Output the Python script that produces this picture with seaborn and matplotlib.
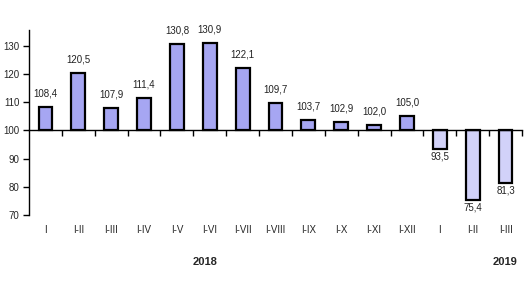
import matplotlib
matplotlib.use("Agg")
import matplotlib.pyplot as plt
import seaborn as sns
import pandas as pd
import numpy as np

categories = ["I", "I-II", "I-III", "I-IV", "I-V", "I-VI", "I-VII", "I-VIII",
              "I-IX", "I-X", "I-XI", "I-XII", "I", "I-II", "I-III"]
years = ["2018"] * 12 + ["2019"] * 3
values = [108.4, 120.5, 107.9, 111.4, 130.8, 130.9, 122.1, 109.7,
          103.7, 102.9, 102.0, 105.0, 93.5, 75.4, 81.3]
value_labels = ["108,4", "120,5", "107,9", "111,4", "130,8", "130,9", "122,1", "109,7",
                "103,7", "102,9", "102,0", "105,0", "93,5", "75,4", "81,3"]
base = 100
yticks = [70, 80, 90, 100, 110, 120, 130]

sns.set_theme(style="white")
plt.rcParams['font.family'] = ['Liberation Sans', 'DejaVu Sans']

df = pd.DataFrame({"pos": list(range(len(values))),
                   "dev": [v - base for v in values],
                   "year": years})

fig = plt.figure(figsize=(5.25, 2.98), dpi=100)
ax = fig.add_axes([29/525, 1 - 215/298, (522 - 29)/525, (215 - 30)/298])

sns.barplot(data=df, x="pos", y="dev", hue="year",
            palette={"2018": "#9999ff", "2019": "#ccccff"},
            dodge=False, width=0.42, edgecolor="black", linewidth=1.6,
            legend=False, ax=ax, bottom=base)

ax.set_ylim(70, 135.6)
ax.set_xlim(-0.5, len(values) - 0.5)
ax.set_yticks(yticks)
ax.set_yticklabels([str(t) for t in yticks], fontsize=7)
ax.set_xlabel("")
ax.set_ylabel("")

for s in ["top", "right"]:
    ax.spines[s].set_visible(False)
ax.spines["left"].set_color("black")
ax.spines["left"].set_linewidth(1)
ax.spines["bottom"].set_position(("data", base))
ax.spines["bottom"].set_color("black")
ax.spines["bottom"].set_linewidth(1)

ax.tick_params(axis="y", which="major", length=4, width=1, direction="out",
               left=True, color="black", pad=3)
ax.set_xticks(list(range(len(values))))
ax.set_xticklabels(categories, fontsize=7)
ax.set_xticks([i + 0.5 for i in range(len(values))], minor=True)
ax.tick_params(axis="x", which="major", length=0, pad=68)
ax.tick_params(axis="x", which="minor", length=4, width=1, direction="out",
               bottom=True, color="black")

for cont in ax.containers:
    for rect in cont:
        pass
patches = [p for p in ax.patches]
for p, lab, v in zip(patches, value_labels, values):
    xc = p.get_x() + p.get_width() / 2
    if v >= base:
        ax.annotate(lab, (xc, v), xytext=(0, 6), textcoords="offset points",
                    ha="center", va="bottom", fontsize=7, color="#222222")
    else:
        ax.annotate(lab, (xc, v), xytext=(0, -2), textcoords="offset points",
                    ha="center", va="top", fontsize=7, color="#222222")

fig.text(205/525, 1 - 262/298, "2018", ha="center", va="center",
         fontsize=8, fontweight="bold")
fig.text(505/525, 1 - 262/298, "2019", ha="center", va="center",
         fontsize=8, fontweight="bold")

fig.savefig("out.png", dpi=100)
